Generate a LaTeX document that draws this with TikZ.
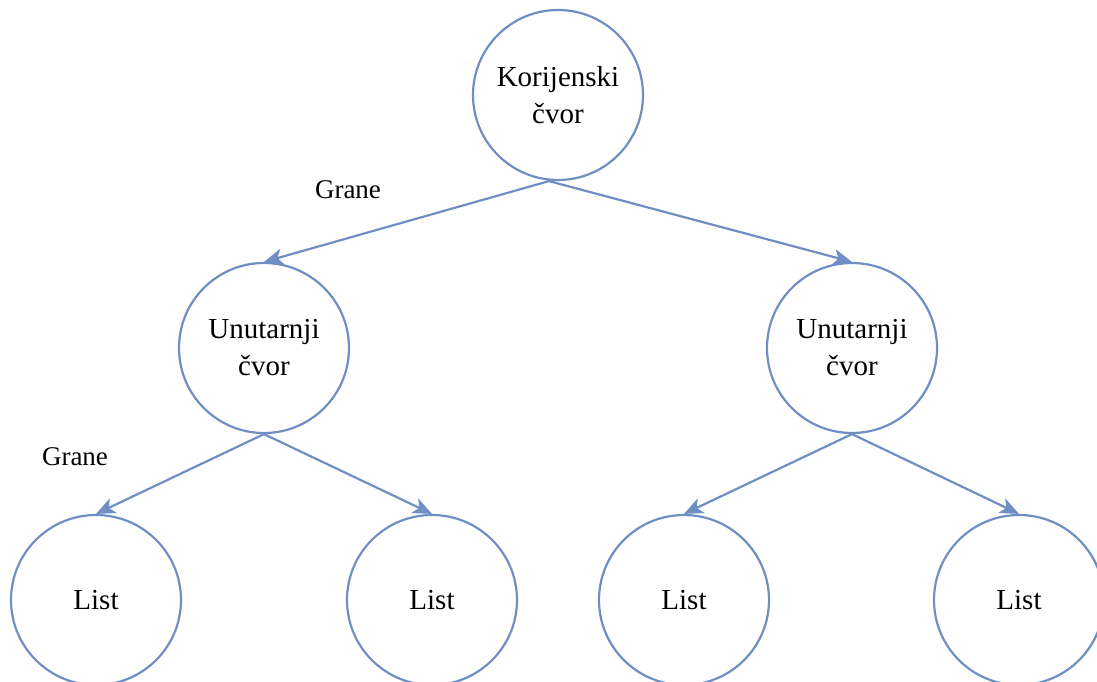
\documentclass[tikz,border=0pt]{standalone}
\usepackage{fontspec}
\setmainfont{Liberation Serif}
\usetikzlibrary{arrows.meta}
\definecolor{edgeblue}{RGB}{111,143,196}
\tikzset{
  treenode/.style={circle, draw=edgeblue, line width=2.2pt, minimum size=170pt, inner sep=0pt,
    align=center, font=\fontsize{29}{37}\selectfont, text=black},
  branch/.style={draw=edgeblue, line width=2.2pt, -{Stealth[length=19pt,width=16pt,inset=5pt]}},
  lbl/.style={font=\fontsize{27}{32}\selectfont, text=black}
}
\begin{document}
\begin{tikzpicture}[x=1pt,y=-1pt]
\useasboundingbox (0,0) rectangle (1097,682);
\node[treenode] (root) at (558,95) {Korijenski\\čvor};
\node[treenode] (intL) at (264,348) {Unutarnji\\čvor};
\node[treenode] (intR) at (852,348) {Unutarnji\\čvor};
\node[treenode] (l1) at (96,600) {List};
\node[treenode] (l2) at (432,600) {List};
\node[treenode] (l3) at (684,600) {List};
\node[treenode] (l4) at (1019,600) {List};
\node[lbl] (g1) at (348,190) {Grane};
\node[lbl] (g2) at (75,457) {Grane};
\draw[branch] ([xshift=-9pt]root.south) -- (intL.north);
\draw[branch] ([xshift=-9pt]root.south) -- (intR.north);
\draw[branch] (intL.south) -- (l1.north);
\draw[branch] (intL.south) -- (l2.north);
\draw[branch] (intR.south) -- (l3.north);
\draw[branch] (intR.south) -- (l4.north);
\end{tikzpicture}
\end{document}
